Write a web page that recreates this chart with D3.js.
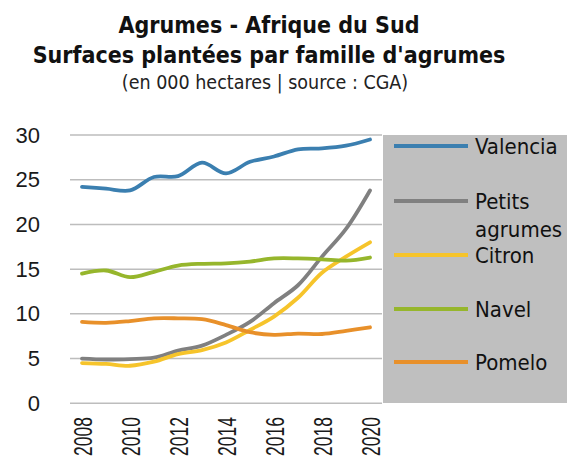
<!DOCTYPE html>
<html><head><meta charset="utf-8">
<script src="https://cdn.jsdelivr.net/npm/d3@7"></script>
<style>
body{margin:0;background:#fff;}
svg{display:block;font-family:"DejaVu Sans Condensed","DejaVu Sans",sans-serif;font-stretch:condensed;}
</style></head>
<body><svg id="c" width="569" height="457"></svg>
<script>
const years = [2008,2009,2010,2011,2012,2013,2014,2015,2016,2017,2018,2019,2020];
const xTickLabels = ["2008","2010","2012","2014","2016","2018","2020"];
const yTicks = [0,5,10,15,20,25,30];
const seriesNames = ["Valencia","Petits agrumes","Citron","Navel","Pomelo"];
const valencia = [24.2,24.0,23.8,25.3,25.4,26.9,25.7,27.0,27.6,28.4,28.5,28.8,29.5];
const petitsAgrumes = [5.0,4.9,4.95,5.1,5.9,6.45,7.65,9.1,11.2,13.2,16.4,19.5,23.8];
const citron = [4.5,4.4,4.2,4.65,5.5,5.95,6.8,8.2,9.7,11.8,14.6,16.4,18.0];
const navel = [14.5,14.85,14.1,14.7,15.4,15.6,15.65,15.85,16.2,16.2,16.1,15.95,16.3];
const pomelo = [9.1,9.0,9.2,9.5,9.5,9.4,8.75,7.95,7.65,7.8,7.75,8.1,8.5];
const colors = ["#3b7fb0","#808080","#f6c42b","#96b62c","#e8902a"];

const data = [valencia, petitsAgrumes, citron, navel, pomelo];
const svg = d3.select("#c");

const x = d3.scalePoint().domain(years).range([70,382]).padding(0.5);
const y = d3.scaleLinear().domain([0,30]).range([403.3,135]);

// Title
const title = svg.append("g").attr("text-anchor","middle");
title.append("text").attr("x",269).attr("y",33).attr("font-weight","bold").attr("font-size",23).attr("fill","#111").text("Agrumes - Afrique du Sud");
title.append("text").attr("x",269).attr("y",63).attr("font-weight","bold").attr("font-size",23).attr("fill","#111").text("Surfaces plantées par famille d'agrumes");
title.append("text").attr("x",265).attr("y",89).attr("font-size",19.5).attr("fill","#222").text("(en 000 hectares | source : CGA)");

// Legend background
svg.append("rect").attr("x",383).attr("y",135).attr("width",184).attr("height",268).attr("fill","#bfbfbf");

// Gridlines
svg.append("g").selectAll("line").data(yTicks).join("line")
  .attr("x1",70).attr("x2",382)
  .attr("y1",d=>y(d)).attr("y2",d=>y(d))
  .attr("stroke","#bdbdbd").attr("stroke-width",1.5);

// Y axis
const ya = svg.append("g").attr("transform","translate(44,0)")
  .call(d3.axisLeft(y).tickValues(yTicks).tickSize(0).tickPadding(4));
ya.select(".domain").remove();
ya.selectAll("text").attr("font-size",22).attr("fill","#1a1a1a").attr("font-family",null);

// X axis
const xa = svg.append("g").attr("transform","translate(0,403)")
  .call(d3.axisBottom(x).tickValues(xTickLabels.map(Number)).tickSize(0));
xa.select(".domain").remove();
xa.selectAll("text").attr("font-size",25).attr("fill","#1a1a1a").attr("font-family",null)
  .attr("text-anchor","end").attr("dy","0.35em").attr("y",0)
  .attr("transform","translate(1,14) rotate(-90) scale(0.7,1)");

// Lines
const line = d3.line().x((d,i)=>x(years[i])).y(d=>y(d)).curve(d3.curveCatmullRom.alpha(0.5));
svg.append("g").selectAll("path").data(data).join("path")
  .attr("d",d=>line(d)).attr("fill","none")
  .attr("stroke",(d,i)=>colors[i]).attr("stroke-width",3.8).attr("stroke-linecap","round");

// Legend
const legY = [146,201,255,309,362];
const lg = svg.append("g");
seriesNames.forEach((n,i)=>{
  lg.append("line").attr("x1",394).attr("x2",468).attr("y1",legY[i]).attr("y2",legY[i])
    .attr("stroke",colors[i]).attr("stroke-width",3.8);
  const t = lg.append("text").attr("x",475).attr("y",legY[i]).attr("dy","0.35em")
    .attr("font-size",22).attr("fill","#111");
  if(n==="Petits agrumes"){
    t.append("tspan").attr("x",475).text("Petits");
    t.append("tspan").attr("x",475).attr("dy","1.3em").text("agrumes");
  } else t.text(n);
});
</script></body></html>
